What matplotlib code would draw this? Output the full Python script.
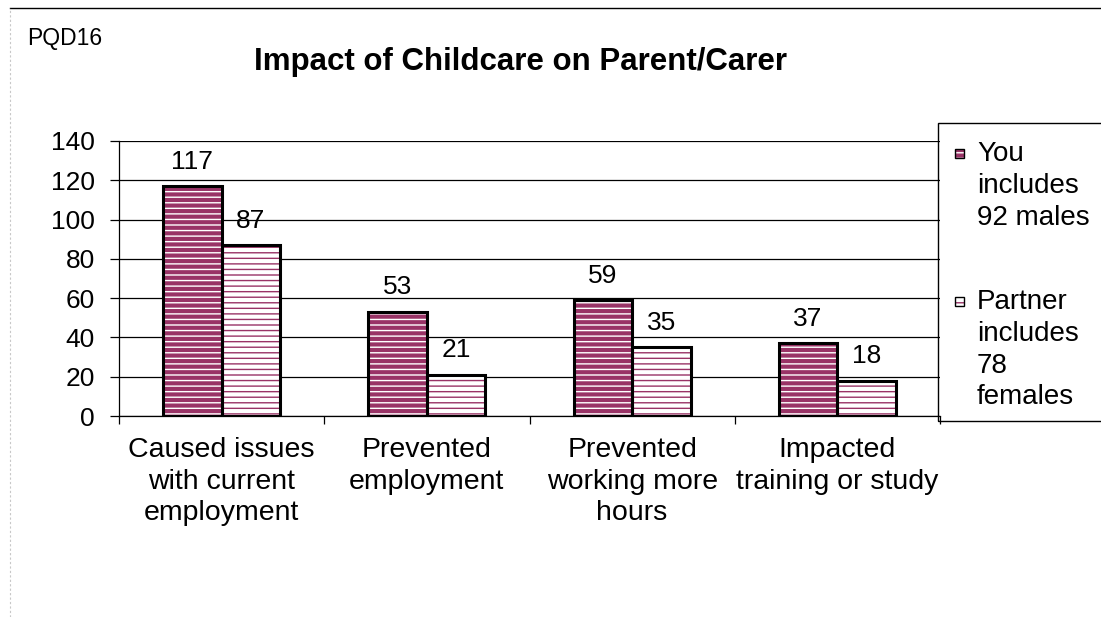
import numpy as np
import matplotlib.pyplot as plt
from matplotlib.patches import Rectangle
from matplotlib.lines import Line2D

plt.rcParams['font.family'] = ['Liberation Sans', 'DejaVu Sans']
plt.rcParams['hatch.linewidth'] = 1.0

# Data
categories = ['Caused issues\nwith current\nemployment', 'Prevented\nemployment',
              'Prevented\nworking more\nhours', 'Impacted\ntraining or study']
you = [117, 53, 59, 37]
partner = [87, 21, 35, 18]
legend_labels = [['You', 'includes', '92 males'],
                 ['Partner', 'includes', '78', 'females']]

plum = '#993366'
W, H = 1101, 617

fig = plt.figure(figsize=(W / 100, H / 100), dpi=100)
ax = fig.add_axes([119 / W, 1 - 416 / H, (940 - 119) / W, (416 - 141) / H])

x = np.arange(len(categories))
w = 0.285

# You bars: plum with white texture, then a heavy black outline
b1 = ax.bar(x - w / 2, you, w, color=plum, edgecolor='white', hatch='---', lw=0, zorder=2)
ax.bar(x - w / 2, you, w, fill=False, edgecolor='black', lw=2.2, zorder=3)
# Partner bars: white with plum texture
b2 = ax.bar(x + w / 2, partner, w, color='white', edgecolor=plum, hatch='---', lw=0, zorder=2)
ax.bar(x + w / 2, partner, w, fill=False, edgecolor='black', lw=2.2, zorder=3)

ax.bar_label(b1, labels=[str(v) for v in you], padding=9, fontsize=19)
ax.bar_label(b2, labels=[str(v) for v in partner], padding=9, fontsize=19)

ax.set_xlim(-0.5, len(categories) - 0.5)
ax.set_ylim(0, 140)
ax.set_yticks(np.arange(0, 141, 20))
ax.yaxis.grid(True, color='black', lw=0.9)
ax.set_axisbelow(True)
ax.tick_params(axis='y', length=6.5, width=0.9, pad=11, labelsize=19)

# category boundary ticks, labels sit on minor ticks
ax.set_xticks(np.arange(-0.5, len(categories), 1.0))
ax.set_xticklabels([])
ax.tick_params(axis='x', which='major', length=5.5, width=0.9)
ax.set_xticks(x, minor=True)
ax.set_xticklabels(categories, minor=True, fontsize=20.5, linespacing=1.29)
ax.tick_params(axis='x', which='minor', length=0, pad=15)

for s in ['top', 'right']:
    ax.spines[s].set_visible(False)
for s in ['left', 'bottom']:
    ax.spines[s].set_linewidth(0.9)

# Titles
fig.text(521 / W, 1 - 70 / H, 'Impact of Childcare on Parent/Carer',
         ha='center', va='baseline', fontsize=22.5, fontweight='bold')
fig.text(27 / W, 1 - 45 / H, 'PQD16', ha='left', va='baseline', fontsize=16.5)

# Legend box
fig.patches.append(Rectangle((938 / W, 1 - 421 / H), 200 / W, (421 - 123) / H,
                             transform=fig.transFigure, fill=False,
                             edgecolor='black', lw=1.0, clip_on=False))
tops = [141, 289]
for lines, top, fc, hc in zip(legend_labels, tops, [plum, 'white'], ['white', plum]):
    fig.patches.append(Rectangle((955 / W, 1 - (top + 17) / H), 9 / W, 9 / H,
                                 transform=fig.transFigure, facecolor=fc,
                                 edgecolor=hc, hatch='---', lw=0))
    fig.patches.append(Rectangle((955 / W, 1 - (top + 17) / H), 9 / W, 9 / H,
                                 transform=fig.transFigure, fill=False,
                                 edgecolor='black', lw=1.0))
    fig.text(977 / W, 1 - top / H, '\n'.join(lines), ha='left', va='top',
             fontsize=20, linespacing=1.29)

# Chart frame
fig.add_artist(Line2D([10 / W, 1], [1 - 8 / H, 1 - 8 / H], color='black', lw=1.0))
fig.add_artist(Line2D([10 / W, 10 / W], [0, 1 - 8 / H], color='#c8c8c8', lw=0.8, ls=(0, (2, 2))))

fig.savefig('out.png', dpi=100)
